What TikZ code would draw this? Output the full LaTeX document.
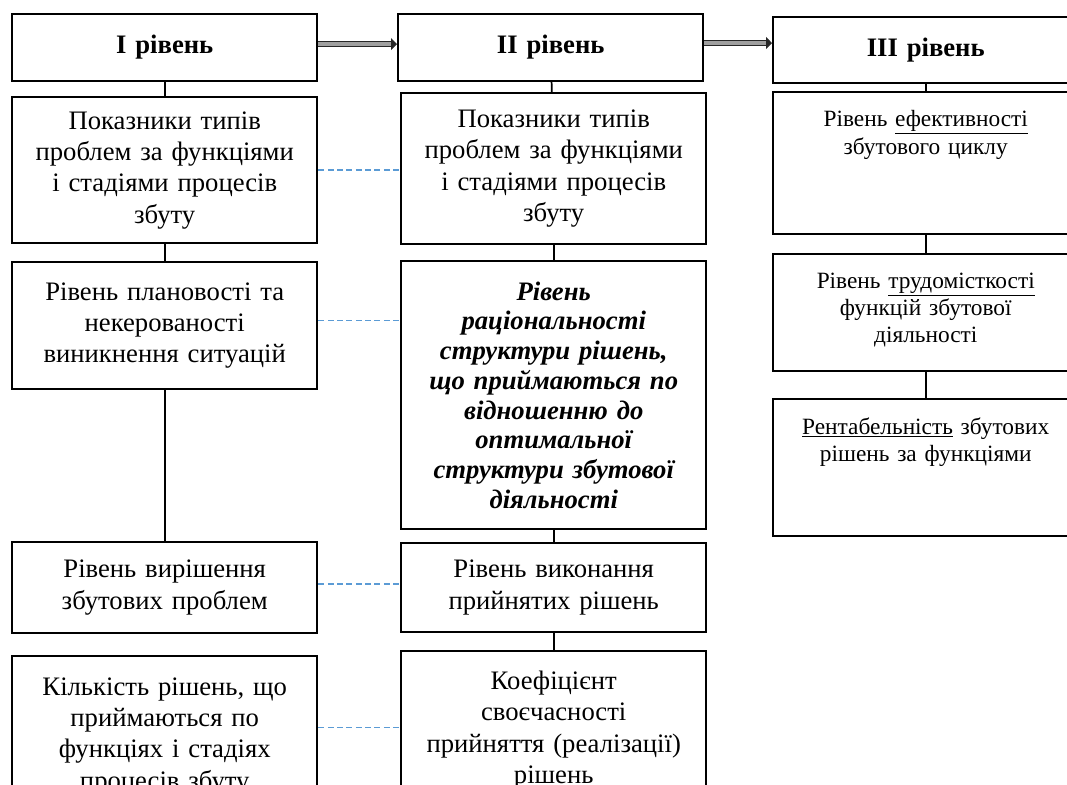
\documentclass[tikz,border=0pt]{standalone}
\usepackage{fontspec}
\setmainfont{Liberation Serif}
\usepackage{xcolor}
\usetikzlibrary{
    arrows.meta,
    positioning
}
\definecolor{dashblue}{RGB}{91,155,213}
\newcommand{\rtext}[2]{\parbox[c][#1][t]{217.5pt}{\centering #2}}
\tikzset{
    box/.style={draw, line width=1.6pt, anchor=north west, inner sep=0pt, align=center,
        text width=217.5pt, minimum width=229pt, font=\fontsize{20}{23.5}\selectfont},
    rbox/.style={box, inner ysep=14pt, font=\fontsize{17.5}{20.5}\selectfont},
    link/.style={line width=1.3pt},
    dlink/.style={dashblue, line width=1.1pt, dash pattern=on 4.5pt off 2.5pt},
    bigarrow/.style={draw=black!85, double=gray!75, double distance=3pt, line width=0.7pt,
        -{Triangle[length=4.5pt, width=9pt]}}
}

\begin{document}
\begin{tikzpicture}[x=0.75pt, y=-0.75pt]
                        \useasboundingbox (0, 0) rectangle (1067, 785);
                        \clip (0, 0) rectangle (1067, 785);

                        \node[box, minimum height=50.25pt] (l0) at (11, 13) {\textbf{I рівень}};
                        \node[box, minimum height=109.5pt] (l1) at (11, 96) {Показники типів\\проблем за функціями\\і стадіями процесів\\збуту};
                        \node[box, minimum height=95.25pt] (l2) at (11, 261) {Рівень плановості та\\некерованості\\виникнення ситуацій};
                        \node[box, minimum height=68.25pt] (l3) at (11, 541) {Рівень вирішення\\збутових проблем};
                        \node[box, minimum height=120pt] (l4) at (11, 655) {Кількість рішень, що\\приймаються по\\функціях і стадіях\\процесів збуту};

                        \node[box, minimum height=50.25pt] (m0) at (397, 13) {\textbf{II рівень}};
                        \node[box, minimum height=113.25pt] (m1) at (400, 92) {Показники типів\\проблем за функціями\\і стадіями процесів\\збуту};
                        \node[box, minimum height=201pt, font=\fontsize{20}{22.3}\selectfont\bfseries\itshape] (m2) at (400, 260) {Рівень\\раціональності\\структури рішень,\\що приймаються по\\відношенню до\\оптимальної\\структури збутової\\діяльності};
                        \node[box, minimum height=66.75pt] (m3) at (400, 542) {Рівень виконання\\прийнятих рішень};
                        \node[box, minimum height=118.5pt] (m4) at (400, 650) {Коефіцієнт\\своєчасності\\прийняття (реалізації)\\рішень};

                        \node[box, minimum height=49.5pt] (r0) at (772, 16) {\textbf{III рівень}};
                        \node[rbox] (r1) at (772, 91) {\rtext{78.5pt}{Рівень \underline{ефективності}\\збутового циклу}};
                        \node[rbox] (r2) at (772, 253) {\rtext{59.75pt}{Рівень \underline{трудомісткості}\\функцій збутової\\діяльності}};
                        \node[rbox] (r3) at (772, 398) {\rtext{74.75pt}{\underline{Рентабельність} збутових\\рішень за функціями}};

                        \coordinate (a1) at ([yshift=2.6pt]l0.east);
                        \coordinate (a2) at ([yshift=3.4pt]m0.east);
                        \draw[bigarrow] (a1) -- (a1 -| m0.west);
                        \draw[bigarrow] (a2) -- (a2 -| r0.west);

                        \draw[link]
                        (l0) edge (l1)
                        (l1) edge (l2)
                        (l2) edge (l3)
                        (m0) edge (m1)
                        (m1) edge (m2)
                        (m2) edge (m3)
                        (m3) edge (m4)
                        (r0) edge (r1)
                        (r1) edge (r2)
                        (r2) edge (r3);

                        \coordinate (d1) at (l1.east);
                        \coordinate (d2) at ([yshift=4pt]l2.east);
                        \coordinate (d3) at ([yshift=2.6pt]l3.east);
                        \coordinate (d4) at ([yshift=6.4pt]l4.east);
                        \draw[dlink] (d1) -- (d1 -| m1.west);
                        \draw[dlink] (d2) -- (d2 -| m2.west);
                        \draw[dlink] (d3) -- (d3 -| m3.west);
                        \draw[dlink] (d4) -- (d4 -| m4.west);
                    \end{tikzpicture}
\end{document}
